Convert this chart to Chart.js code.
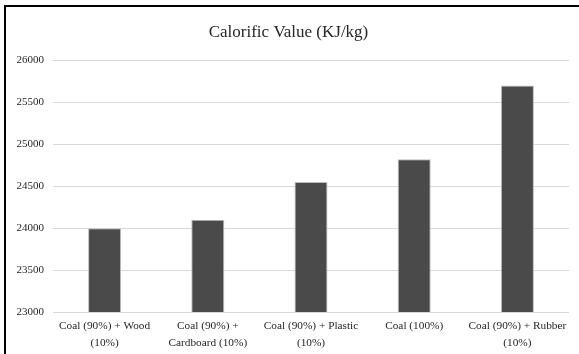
<!DOCTYPE html>
<html>
<head>
<meta charset="utf-8">
<script src="https://cdn.jsdelivr.net/npm/chart.js@4/dist/chart.umd.min.js"></script>
<style>
  html, body { margin: 0; padding: 0; background: #fff; overflow: hidden; }
  #wrap { position: relative; width: 579px; height: 354px; }
  #frame {
    position: absolute; left: 4px; top: 5px; width: 600px; height: 400px;
    border: 2px solid #000; pointer-events: none;
  }
</style>
</head>
<body>
<div id="wrap">
  <canvas id="chart" width="579" height="354"></canvas>
  <div id="frame"></div>
</div>
<script>
// chart data
var categories = [
    ['Coal (90%) + Wood', '(10%)'],
    ['Coal (90%) +', 'Cardboard (10%)'],
    ['Coal (90%) + Plastic', '(10%)'],
    ['Coal (100%)'],
    ['Coal (90%) + Rubber', '(10%)']
];
var calorificValues = [24000, 24100, 24550, 24820, 25700];
var yTicks = [23000, 23500, 24000, 24500, 25000, 25500, 26000];

var serif = 'Liberation Serif, Times New Roman, serif';

function createBarChart() {
    var ctx = document.getElementById('chart').getContext('2d');
    new Chart(ctx, {
        type: 'bar',
        data: {
            labels: categories,
            datasets: [
                {
                    label: 'Calorific Value (KJ/kg)',
                    data: calorificValues,
                    backgroundColor: '#4a4a4a',
                    borderColor: '#bdbdbd',
                    borderWidth: 1,
                    barPercentage: 0.32,
                    categoryPercentage: 1
                }
            ]
        },
        options: {
            responsive: false,
            animation: false,
            layout: { padding: { top: 22, left: 8, right: 10, bottom: 0 } },
            plugins: {
                legend: { display: false },
                tooltip: { enabled: false },
                title: {
                    display: true,
                    text: 'Calorific Value (KJ/kg)',
                    color: '#262626',
                    font: { family: serif, size: 17, weight: 'normal', lineHeight: 1.2 },
                    padding: { top: 0, bottom: 18 }
                }
            },
            scales: {
                x: {
                    grid: { display: false, drawTicks: false },
                    border: { display: false },
                    ticks: {
                        color: '#262626',
                        font: { family: serif, size: 11.3, lineHeight: 1.5 },
                        padding: 6,
                        maxRotation: 0,
                        autoSkip: false
                    },
                    afterFit: function (axis) { axis.height = 42; }
                },
                y: {
                    min: yTicks[0],
                    max: yTicks[yTicks.length - 1],
                    afterBuildTicks: function (axis) {
                        axis.ticks = yTicks.map(function (v) { return { value: v }; });
                    },
                    grid: { color: '#d9d9d9', drawTicks: false },
                    border: { display: false },
                    ticks: {
                        color: '#262626',
                        font: { family: serif, size: 11 },
                        padding: 9,
                        callback: function (v) { return String(v); }
                    },
                    afterFit: function (axis) { axis.width = 45; }
                }
            }
        }
    });
}

document.addEventListener('DOMContentLoaded', createBarChart);
</script>
</body>
</html>
